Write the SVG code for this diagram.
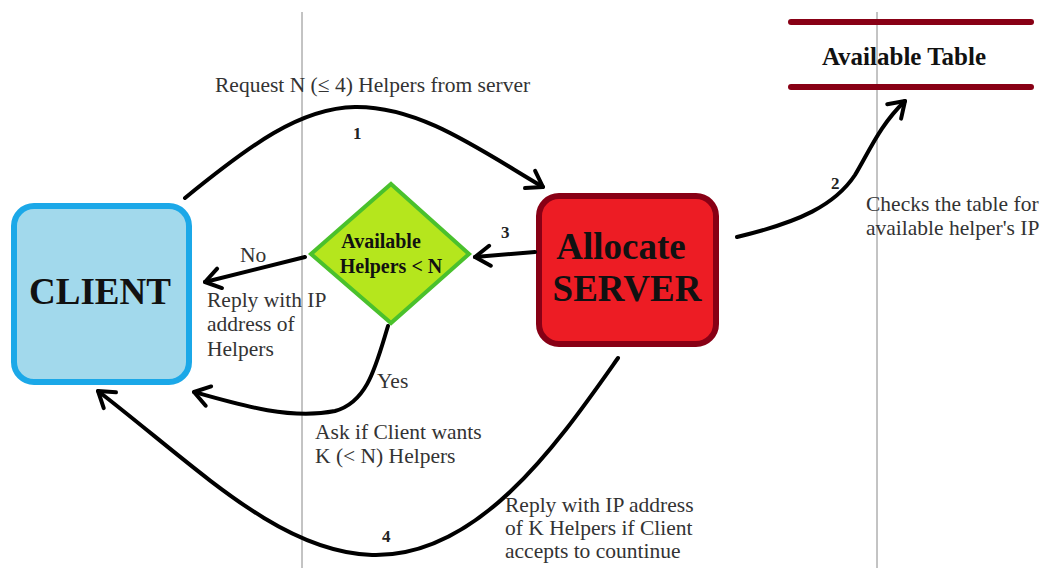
<svg xmlns="http://www.w3.org/2000/svg" width="1043" height="568" viewBox="0 0 1043 568">
<defs>
<marker id="ah" markerUnits="userSpaceOnUse" markerWidth="40" markerHeight="40" refX="0" refY="0" viewBox="-20 -20 40 40" orient="auto" overflow="visible">
<path d="M-15,-10 L0,0 L-15,10" fill="none" stroke="#000" stroke-width="4" stroke-linecap="round" stroke-linejoin="round"/>
</marker>
</defs>
<style>
text{font-family:'Liberation Serif','DejaVu Serif',serif}
.lbl{font-size:21.5px;fill:#333}
.num{font-size:17px;font-weight:bold;fill:#222}
.big{font-weight:bold;fill:#111}
.conn{fill:none;stroke:#000;stroke-width:4;stroke-linecap:round;marker-end:url(#ah)}
.grid{stroke:#888;stroke-width:1}
</style>
<rect width="1043" height="568" fill="#fff"/>
<line class="grid" x1="302" y1="12" x2="302" y2="568"/>
<line class="grid" x1="877" y1="12" x2="877" y2="568"/>

<g id="client">
<rect x="14" y="206" width="175" height="176" rx="20" fill="#a2d9ec" stroke="#1ba8e8" stroke-width="6"/>
<text class="big" x="100" y="304" font-size="37" text-anchor="middle">CLIENT</text>
</g>

<g id="decision">
<polygon points="391,184 469,254 391,323 311,254" fill="#b5e61d" stroke="#4ac12c" stroke-width="4"/>
<text class="big" x="381" y="248" font-size="20" text-anchor="middle">Available</text>
<text class="big" x="391" y="273" font-size="20" text-anchor="middle">Helpers &lt; N</text>
</g>

<g id="server">
<rect x="539" y="196" width="177" height="148" rx="20" fill="#ed1c24" stroke="#880015" stroke-width="6"/>
<text class="big" x="621" y="259" font-size="37" text-anchor="middle">Allocate</text>
<text class="big" x="627" y="301" font-size="37" text-anchor="middle">SERVER</text>
</g>

<g id="table">
<line x1="791" y1="22" x2="1031" y2="22" stroke="#880015" stroke-width="6" stroke-linecap="round"/>
<line x1="791" y1="87" x2="1031" y2="87" stroke="#880015" stroke-width="6" stroke-linecap="round"/>
<text class="big" x="904" y="65" font-size="25" text-anchor="middle">Available Table</text>
</g>

<g id="connectors">
<path class="conn" d="M185,198 C250,145 300,108 355,107 C420,106 480,150 543,187"/>
<path class="conn" d="M737,237 C800,222 835,205 855,175 C870,150 880,125 905,101"/>
<path class="conn" d="M535,252 L475,257"/>
<path class="conn" d="M305,257 L205,282"/>
<path class="conn" d="M388,326 C376,365 368,402 335,411 C290,420 240,405 194,392"/>
<path class="conn" d="M618,358 C560,440 480,558 372,555 C280,552 200,470 98,391"/>
</g>

<g id="labels">
<text class="lbl" x="215" y="92">Request N (≤ 4) Helpers from server</text>
<text class="num" x="353" y="139">1</text>
<text class="num" x="831" y="189">2</text>
<text class="lbl" x="866" y="211">Checks the table for</text>
<text class="lbl" x="866" y="235">available helper's IP</text>
<text class="num" x="501" y="238">3</text>
<text class="lbl" x="240" y="262">No</text>
<text class="lbl" x="207" y="307">Reply with IP</text>
<text class="lbl" x="207" y="331">address of</text>
<text class="lbl" x="207" y="356">Helpers</text>
<text class="lbl" x="377" y="388">Yes</text>
<text class="lbl" x="315" y="439">Ask if Client wants</text>
<text class="lbl" x="315" y="463">K (&lt; N) Helpers</text>
<text class="num" x="382" y="542">4</text>
<text class="lbl" x="505" y="512">Reply with IP address</text>
<text class="lbl" x="505" y="535">of K Helpers if Client</text>
<text class="lbl" x="505" y="558">accepts to countinue</text>
</g>
</svg>
